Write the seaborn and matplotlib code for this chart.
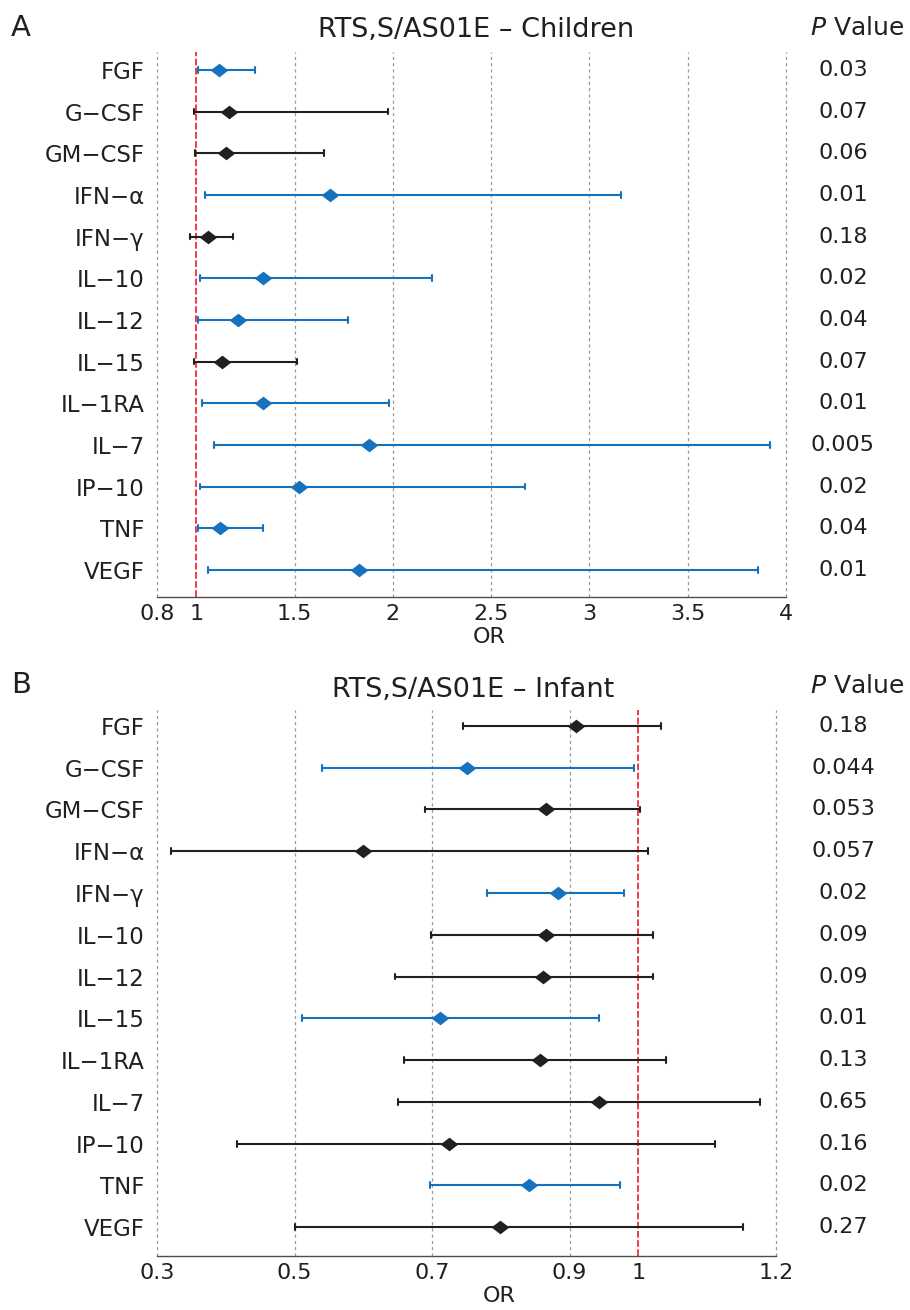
import numpy as np
import pandas as pd
import matplotlib
matplotlib.use("Agg")
import matplotlib.pyplot as plt
from matplotlib.path import Path
from matplotlib.transforms import blended_transform_factory
import seaborn as sns

cytokines = ["FGF", "G−CSF", "GM−CSF", "IFN−α", "IFN−γ", "IL−10", "IL−12",
             "IL−15", "IL−1RA", "IL−7", "IP−10", "TNF", "VEGF"]

# panel A: children
child_or = [1.115, 1.166, 1.15, 1.68, 1.06, 1.34, 1.21, 1.13, 1.34, 1.88, 1.52, 1.12, 1.83]
child_low = [1.008, 0.99, 0.993, 1.044, 0.97, 1.02, 1.01, 0.99, 1.03, 1.09, 1.02, 1.01, 1.06]
child_high = [1.30, 1.975, 1.65, 3.16, 1.186, 2.20, 1.77, 1.51, 1.98, 3.92, 2.67, 1.34, 3.86]
child_p = ["0.03", "0.07", "0.06", "0.01", "0.18", "0.02", "0.04", "0.07", "0.01",
           "0.005", "0.02", "0.04", "0.01"]
child_ticks = [0.8, 1, 1.5, 2, 2.5, 3, 3.5, 4]
child_ticklabels = ["0.8", "1", "1.5", "2", "2.5", "3", "3.5", "4"]

# panel B: infant
inf_or = [0.909, 0.751, 0.866, 0.60, 0.883, 0.866, 0.861, 0.711, 0.857, 0.943, 0.725, 0.841, 0.799]
inf_low = [0.745, 0.54, 0.69, 0.32, 0.78, 0.698, 0.646, 0.511, 0.659, 0.651, 0.417, 0.697, 0.50]
inf_high = [1.033, 0.994, 1.002, 1.014, 0.979, 1.021, 1.021, 0.943, 1.04, 1.177, 1.111, 0.973, 1.152]
inf_p = ["0.18", "0.044", "0.053", "0.057", "0.02", "0.09", "0.09", "0.01", "0.13",
         "0.65", "0.16", "0.02", "0.27"]
inf_ticks = [0.3, 0.5, 0.7, 0.9, 1, 1.2]
inf_ticklabels = ["0.3", "0.5", "0.7", "0.9", "1", "1.2"]

BLUE = "#1772bd"
BLACK = "#231f20"
GRID = "#9a9a9a"
RED = "#ee1c25"
SPINE = "#4d4d4d"

sns.set_style("white")
plt.rcParams["font.family"] = ["DejaVu Sans"]
plt.rcParams["mathtext.fontset"] = "dejavusans"

# flattened diamond marker
DIAMOND = Path([(-1, 0), (0, 0.77), (1, 0), (0, -0.77), (-1, 0)],
               [Path.MOVETO, Path.LINETO, Path.LINETO, Path.LINETO, Path.CLOSEPOLY])


def long_form(low, mid, high, pvals):
    rows = []
    for c, l, m, h, p in zip(cytokines, low, mid, high, pvals):
        sig = "sig" if float(p) < 0.05 else "ns"
        for v in (l, m, h):
            rows.append({"Cytokine": c, "OR": v, "sig": sig})
    return pd.DataFrame(rows)


def forest(fig, ax, df, pvals, ticks, ticklabels, xlim, ylim, or_x):
    ax.axvline(1, color=RED, ls=(0, (4, 1.5)), lw=1.2, zorder=1)
    sns.pointplot(
        data=df, x="OR", y="Cytokine", hue="sig", order=cytokines,
        hue_order=["ns", "sig"], palette={"ns": BLACK, "sig": BLUE},
        estimator="median", errorbar=("pi", 100), capsize=0.14,
        linestyle="none", marker=DIAMOND, markersize=12.8, markeredgewidth=0,
        err_kws={"linewidth": 1.5}, legend=False, orient="h", ax=ax,
    )
    ax.set_xlim(*xlim)
    ax.set_ylim(*ylim)
    ax.set_xticks(ticks)
    ax.set_xticklabels(ticklabels)
    ax.grid(axis="x", color=GRID, ls=(0, (2.5, 2.5)), lw=0.9)
    for line, t in zip(ax.get_xgridlines(), ticks):
        line.set_clip_on(False)
        if t == 1:
            line.set_visible(False)
    ax.grid(axis="y", visible=False)
    ax.set_axisbelow(True)
    for s in ["top", "right", "left"]:
        ax.spines[s].set_visible(False)
    ax.spines["bottom"].set_color(SPINE)
    ax.spines["bottom"].set_linewidth(1.0)
    ax.tick_params(axis="y", length=0, pad=9, labelsize=16.5, labelcolor=BLACK)
    ax.tick_params(axis="x", direction="in", length=3, color=SPINE,
                   pad=5, labelsize=16, labelcolor=BLACK)
    ax.set_ylabel("")
    ax.set_xlabel("OR", fontsize=16, color=BLACK, labelpad=0)
    ax.xaxis.set_label_coords(or_x, -0.055)
    trans = blended_transform_factory(fig.transFigure, ax.transData)
    for i, p in enumerate(pvals):
        ax.text(843 / 910, i, p, transform=trans, ha="center", va="center",
                fontsize=16, color=BLACK)


fig = plt.figure(figsize=(9.1, 13.1), dpi=100)
ax_a = fig.add_axes([157 / 910, 1 - 597 / 1310, 629 / 910, 545 / 1310])
ax_b = fig.add_axes([157 / 910, 1 - 1256 / 1310, 619 / 910, 546 / 1310])

forest(fig, ax_a, long_form(child_low, child_or, child_high, child_p), child_p,
       child_ticks, child_ticklabels, (0.8, 4), (12.65, -0.43), 0.528)
forest(fig, ax_b, long_form(inf_low, inf_or, inf_high, inf_p), inf_p,
       inf_ticks, inf_ticklabels, (0.3, 1.2), (12.69, -0.38), 0.5525)

fig.text(11 / 910, 1 - 28 / 1310, "A", fontsize=21, ha="left", va="center", color=BLACK)
fig.text(11 / 910, 1 - 685 / 1310, "B", fontsize=21, ha="left", va="center", color=BLACK)
fig.text(476 / 910, 1 - 30 / 1310, "RTS,S/AS01E – Children", fontsize=19.5,
         ha="center", va="center", color=BLACK)
fig.text(473 / 910, 1 - 690 / 1310, "RTS,S/AS01E – Infant", fontsize=19.5,
         ha="center", va="center", color=BLACK)
fig.text(857 / 910, 1 - 28 / 1310, "$\\mathit{P}$ Value", fontsize=18,
         ha="center", va="center", color=BLACK)
fig.text(857 / 910, 1 - 686 / 1310, "$\\mathit{P}$ Value", fontsize=18,
         ha="center", va="center", color=BLACK)

fig.savefig("out.png", dpi=100)
